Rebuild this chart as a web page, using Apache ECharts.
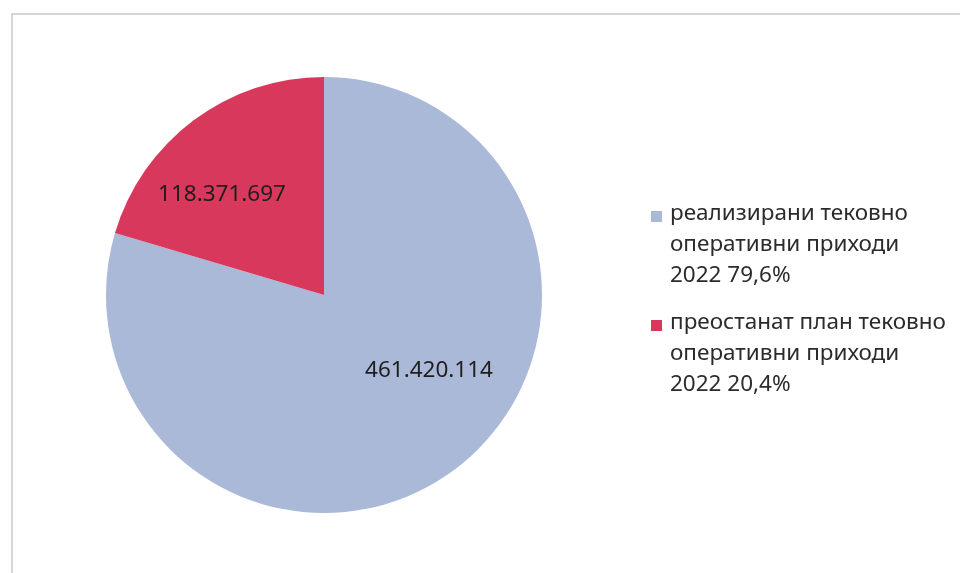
<!DOCTYPE html>
<html>
<head>
<meta charset="utf-8">
<script src="https://cdn.jsdelivr.net/npm/echarts@6/dist/echarts.min.js"></script>
<style>html,body{margin:0;padding:0;background:#fff;}#c{width:960px;height:573px;}</style>
</head>
<body>
<div id="c"></div>
<script>
const categories = [
  'реализирани тековно\nоперативни приходи\n2022 79,6%',
  'преостанат план тековно\nоперативни приходи\n2022 20,4%'
];
const values = [461420114, 118371697];
const valueLabels = ['461.420.114', '118.371.697'];
const colors = ['#abb9d8', '#d8385c'];
const labelOffsets = [[38, -14], [-35, -11]];

const chart = echarts.init(document.getElementById('c'));
const FONT = 'Noto Sans';
chart.setOption({
  animation: false,
  backgroundColor: '#fff',
  graphic: [{
    type: 'polyline',
    shape: { points: [[12, 573], [12, 14], [960, 14]] },
    style: { stroke: '#c8c8c8', lineWidth: 1.5, fill: null }
  }],
  legend: {
    orient: 'vertical',
    left: 651,
    top: 198,
    padding: 0,
    itemGap: 16,
    itemWidth: 11,
    itemHeight: 93,
    icon: 'path://M0,0h0.01v0.01h-0.01zM0,13h11v11h-11zM0,93h0.01v-0.01h-0.01z',
    textStyle: { fontFamily: FONT, fontSize: 22.5, color: '#2b2b2b', lineHeight: 31, padding: [0, 0, 0, 3] },
    data: categories
  },
  series: [{
    type: 'pie',
    center: [324, 295],
    radius: [0, 218],
    startAngle: 90,
    clockwise: true,
    silent: true,
    data: categories.map((c, i) => ({ name: c, value: values[i], itemStyle: { color: colors[i] } })),
    label: {
      position: 'inside',
      formatter: p => valueLabels[p.dataIndex],
      fontFamily: FONT,
      fontSize: 22.5,
      color: '#1e1e1e'
    },
    labelLine: { show: false },
    labelLayout: p => ({ dx: labelOffsets[p.dataIndex][0], dy: labelOffsets[p.dataIndex][1] })
  }]
});
</script>
</body>
</html>
